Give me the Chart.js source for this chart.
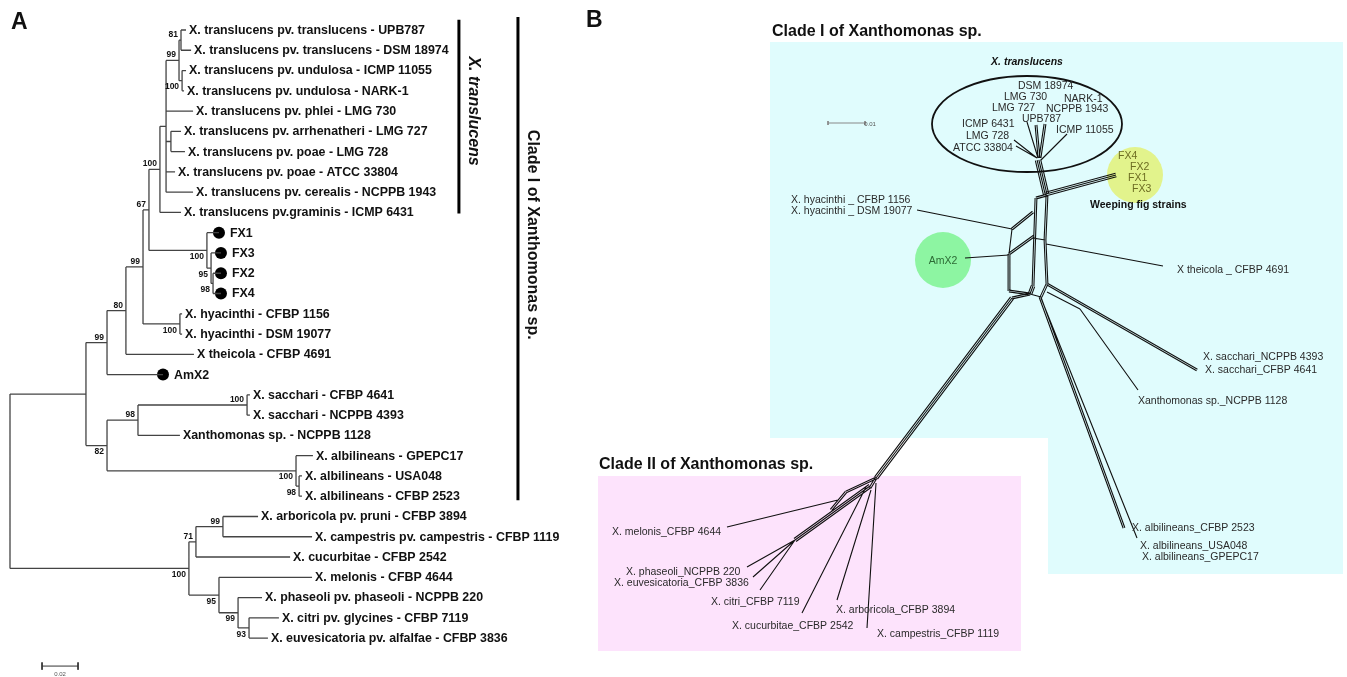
<!DOCTYPE html>
<html>
<head>
<meta charset="utf-8">
<script src="https://cdn.jsdelivr.net/npm/chart.js@4.4.1/dist/chart.umd.min.js"></script>
<style>
html,body{margin:0;padding:0;background:#fff;}
#wrap{position:relative;width:1347px;height:677px;}
</style>
</head>
<body>
<div id="wrap"><canvas id="fig" width="1347" height="677"></canvas></div>
<script>
// ---- Panel A : tree tips, top to bottom ----
const tipNames = [
  'X. translucens pv. translucens - UPB787',
  'X. translucens pv. translucens - DSM 18974',
  'X. translucens pv. undulosa - ICMP 11055',
  'X. translucens pv. undulosa - NARK-1',
  'X. translucens pv. phlei - LMG 730',
  'X. translucens pv. arrhenatheri - LMG 727',
  'X. translucens pv. poae - LMG 728',
  'X. translucens pv. poae - ATCC 33804',
  'X. translucens pv. cerealis - NCPPB 1943',
  'X. translucens pv.graminis - ICMP 6431',
  'FX1', 'FX3', 'FX2', 'FX4',
  'X. hyacinthi - CFBP 1156',
  'X. hyacinthi - DSM 19077',
  'X theicola - CFBP 4691',
  'AmX2',
  'X. sacchari - CFBP 4641',
  'X. sacchari - NCPPB 4393',
  'Xanthomonas sp. - NCPPB 1128',
  'X. albilineans - GPEPC17',
  'X. albilineans - USA048',
  'X. albilineans - CFBP 2523',
  'X. arboricola pv. pruni - CFBP 3894',
  'X. campestris pv. campestris - CFBP 1119',
  'X. cucurbitae - CFBP 2542',
  'X. melonis - CFBP 4644',
  'X. phaseoli pv. phaseoli - NCPPB 220',
  'X. citri pv. glycines - CFBP 7119',
  'X. euvesicatoria pv. alfalfae - CFBP 3836'
];
// distance from root (substitutions/site)
const tipDist = [0.0978, 0.1006, 0.0978, 0.0967, 0.1017, 0.0950, 0.0972, 0.0917, 0.1017, 0.0950,
  0.1161, 0.1172, 0.1172, 0.1172, 0.0956, 0.0956, 0.1022, 0.0850,
  0.1333, 0.1333, 0.0944, 0.1683, 0.1622, 0.1622,
  0.1378, 0.1678, 0.1556, 0.1678, 0.1400, 0.1494, 0.1433];
const dottedTips = [10, 11, 12, 13, 17];

// internal nodes
const nodeNames = ['n81', 'nUnd', 'n99a', 'nArr', 'n100a', 'n100b', 'nFXc', 'nFXb', 'nFXa', 'n67', 'nHya', 'n99b', 'n80', 'n99c',
  'nSac', 'n98', 'nAlbB', 'nAlbA', 'n82', 'n86', 'n99e', 'n71', 'n93', 'n99d', 'n95', 'n100c', 'root'];
const nodeDist = [0.0950, 0.0956, 0.0939, 0.0894, 0.0867, 0.0833, 0.1128, 0.1117, 0.1094, 0.0772, 0.0944, 0.0739, 0.0644, 0.0539,
  0.1317, 0.0711, 0.1606, 0.1589, 0.0539, 0.0422, 0.1183, 0.1033, 0.1328, 0.1267, 0.1161, 0.0994, 0];
const nodeKids = [[0, 1], [2, 3], ['n81', 'nUnd'], [5, 6], ['n99a', 4, 'nArr', 7, 8], ['n100a', 9], [12, 13], [11, 'nFXc'], [10, 'nFXb'],
  ['n100b', 'nFXa'], [14, 15], ['n67', 'nHya'], ['n99b', 16], ['n80', 17], [18, 19], ['nSac', 20], [22, 23], [21, 'nAlbB'],
  ['n98', 'nAlbA'], ['n99c', 'n82'], [24, 25], ['n99e', 26], [29, 30], [28, 'n93'], [27, 'n99d'], ['n71', 'n95'], ['n86', 'n100c']];
const nodeSupport = ['81', '100', '99', '', '', '100', '98', '95', '100', '67', '100', '99', '80', '99',
  '100', '98', '98', '100', '82', '', '99', '71', '93', '99', '95', '100', ''];

// ---- Panel B : split network (layout coordinates) ----
// [x1, y1, x2, y2, parallel splits]
const netEdges = [
  [1037, 158, 1014, 140, 1], [1037, 158, 1016, 146, 1], [1038, 158, 1027, 122, 1],
  [1039, 158, 1036, 125, 2], [1040, 158, 1045, 124, 2], [1041, 160, 1067, 134, 1],
  [1038, 160, 1046, 194, 4],
  [1046, 194, 1116, 175, 3],
  [1036, 198, 1047, 195, 2], [1036, 198, 1033, 286, 2], [1047, 195, 1045, 240, 2], [1045, 240, 1047, 284, 2],
  [1033, 238, 1045, 240, 1],
  [1046, 244, 1163, 266, 1],
  [1033, 212, 1012, 229, 2], [1012, 229, 1009, 254, 1], [1034, 236, 1009, 254, 2], [1009, 254, 1009, 291, 2],
  [1009, 291, 1030, 294, 2], [1012, 229, 917, 210, 1], [1009, 255, 965, 258, 1],
  [1033, 286, 1030, 294, 3], [1047, 284, 1041, 297, 2], [1030, 294, 1041, 297, 1],
  [1012, 298, 876, 478, 3], [1030, 294, 1012, 298, 2],
  [1040, 297, 1124, 528, 2], [1041, 298, 1137, 538, 1],
  [1047, 284, 1197, 370, 2],
  [1047, 292, 1080, 309, 1], [1080, 309, 1138, 390, 1],
  [876, 478, 870, 488, 2], [876, 478, 846, 492, 2], [846, 492, 831, 510, 2], [838, 500, 727, 527, 1],
  [870, 486, 795, 540, 3], [795, 540, 747, 567, 1], [795, 540, 753, 577, 1], [795, 540, 760, 590, 1],
  [866, 487, 802, 613, 1], [871, 490, 837, 600, 1], [876, 483, 867, 628, 1]
];
const netLabels = [
  ['X. hyacinthi _ CFBP 1156', 791, 200], ['X. hyacinthi _ DSM 19077', 791, 211],
  ['X theicola _ CFBP 4691', 1177, 270],
  ['X. sacchari_NCPPB 4393', 1203, 357], ['X. sacchari_CFBP 4641', 1205, 370],
  ['Xanthomonas sp._NCPPB 1128', 1138, 401],
  ['X. albilineans_CFBP 2523', 1132, 528], ['X. albilineans_USA048', 1140, 546], ['X. albilineans_GPEPC17', 1142, 557],
  ['X. melonis_CFBP 4644', 612, 532], ['X. phaseoli_NCPPB 220', 626, 572], ['X. euvesicatoria_CFBP 3836', 614, 583],
  ['X. citri_CFBP 7119', 711, 602], ['X. cucurbitae_CFBP 2542', 732, 626], ['X. arboricola_CFBP 3894', 836, 610],
  ['X. campestris_CFBP 1119', 877, 634],
  ['DSM 18974', 1018, 86], ['LMG 730', 1004, 97], ['NARK-1', 1064, 99], ['LMG 727', 992, 108], ['NCPPB 1943', 1046, 109],
  ['UPB787', 1022, 119], ['ICMP 6431', 962, 124], ['ICMP 11055', 1056, 130], ['LMG 728', 966, 136], ['ATCC 33804', 953, 148]
];
const fxLabels = [['FX4', 1118, 156], ['FX2', 1130, 167], ['FX1', 1128, 178], ['FX3', 1132, 189]];

// layout
const W = 1347, H = 677;
const treeScale = { pxPerUnit: 1800, rootPx: 10, rowPx: 20.27, firstRowPx: 30 };
const groupBars = [
  { label: 'X. translucens', x: 0.2494, from: -0.5, to: 9.05, textY: 4.0, italic: true },
  { label: 'Clade I of Xanthomonas sp.', x: 0.2822, from: -0.64, to: 23.2, textY: 10.1, italic: false }
];
const FONT = '"Liberation Sans", Arial, Helvetica, sans-serif';
const strandGap = 1.8;

// node positions
const nodePos = {};
function place(name) {
  if (nodePos[name]) return nodePos[name];
  const i = nodeNames.indexOf(name);
  const ys = nodeKids[i].map(k => typeof k === 'number' ? k : place(k).y);
  nodePos[name] = { x: nodeDist[i], y: (Math.min(...ys) + Math.max(...ys)) / 2, ys };
  return nodePos[name];
}
const nodeParent = {};
nodeKids.forEach((kids, i) => kids.forEach((k, j) => { if (typeof k === 'string') nodeParent[k] = { first: j === 0 }; }));

const treePts = [];
nodeNames.forEach((n, i) => {
  const p = place(n);
  treePts.push({ x: p.x, y: Math.min(...p.ys) }, { x: p.x, y: Math.max(...p.ys) }, { x: null, y: null });
  nodeKids[i].forEach(k => {
    const c = typeof k === 'number' ? { x: tipDist[k], y: k } : place(k);
    treePts.push({ x: p.x, y: c.y }, { x: c.x, y: c.y }, { x: null, y: null });
  });
});

const barPts = [];
groupBars.forEach(b => barPts.push({ x: b.x, y: b.from }, { x: b.x, y: b.to }, { x: null, y: null }));

const netPts = [];
netEdges.forEach(e => {
  const [x1, y1, x2, y2, k] = e;
  const len = Math.hypot(x2 - x1, y2 - y1);
  const nx = -(y2 - y1) / len, ny = (x2 - x1) / len;
  for (let i = 0; i < k; i++) {
    const o = (i - (k - 1) / 2) * strandGap;
    netPts.push({ x: x1 + nx * o, y: y1 + ny * o }, { x: x2 + nx * o, y: y2 + ny * o }, { x: null, y: null });
  }
});

const scaleA = [{ x: 0.0178, y: 31.38 }, { x: 0.0378, y: 31.38 }, { x: null, y: null },
  { x: 0.0178, y: 31.2 }, { x: 0.0178, y: 31.56 }, { x: null, y: null }, { x: 0.0378, y: 31.2 }, { x: 0.0378, y: 31.56 }];
const scaleB = [{ x: 828, y: 123 }, { x: 865, y: 123 }, { x: null, y: null },
  { x: 828, y: 121 }, { x: 828, y: 125 }, { x: null, y: null }, { x: 865, y: 121 }, { x: 865, y: 125 }];

const figPlugin = {
  id: 'figText',
  beforeDraw(chart) {
    const c = chart.ctx;
    c.save(); c.fillStyle = '#fff'; c.fillRect(0, 0, chart.width, chart.height); c.restore();
  },
  beforeDatasetsDraw(chart) {
    const c = chart.ctx, X = v => chart.scales.xB.getPixelForValue(v), Y = v => chart.scales.yB.getPixelForValue(v);
    c.save();
    c.fillStyle = '#e0fcfd';
    c.beginPath();
    c.moveTo(X(770), Y(42)); c.lineTo(X(1343), Y(42)); c.lineTo(X(1343), Y(574)); c.lineTo(X(1048), Y(574));
    c.lineTo(X(1048), Y(438)); c.lineTo(X(770), Y(438)); c.closePath(); c.fill();
    c.fillStyle = '#fde3fc';
    c.fillRect(X(598), Y(476), X(1021) - X(598), Y(651) - Y(476));
    c.fillStyle = '#e2f38c';
    c.beginPath(); c.arc(X(1135), Y(175), 28, 0, Math.PI * 2); c.fill();
    c.fillStyle = '#8df5a2';
    c.beginPath(); c.arc(X(943), Y(260), 28, 0, Math.PI * 2); c.fill();
    c.strokeStyle = '#111'; c.lineWidth = 1.8;
    c.beginPath(); c.ellipse(X(1027), Y(124), 95, 48, 0, 0, Math.PI * 2); c.stroke();
    c.restore();
  },
  afterDatasetsDraw(chart) {
    const c = chart.ctx;
    const xa = chart.scales.xA, ya = chart.scales.yA, xb = chart.scales.xB, yb = chart.scales.yB;
    c.save();
    c.fillStyle = '#111';
    c.textBaseline = 'middle';
    // tip labels
    c.font = 'bold 12.4px ' + FONT;
    tipNames.forEach((t, i) => {
      const gap = dottedTips.includes(i) ? 11 : 3;
      c.fillText(t, xa.getPixelForValue(tipDist[i]) + gap, ya.getPixelForValue(i) + 0.5);
    });
    // bootstrap values
    c.font = 'bold 8.5px ' + FONT;
    c.textAlign = 'right';
    nodeNames.forEach((n, i) => {
      if (!nodeSupport[i]) return;
      const p = place(n), px = xa.getPixelForValue(p.x) - 3, py = ya.getPixelForValue(p.y);
      const above = nodeParent[n] ? nodeParent[n].first : false;
      c.textBaseline = above ? 'bottom' : 'top';
      c.fillText(nodeSupport[i], px, above ? py - 1 : py + 2);
    });
    // group bars text
    c.textAlign = 'center'; c.textBaseline = 'middle';
    groupBars.forEach(b => {
      c.save();
      c.translate(xa.getPixelForValue(b.x) + 14, ya.getPixelForValue(b.textY));
      c.rotate(Math.PI / 2);
      c.font = (b.italic ? 'italic ' : '') + 'bold 16px ' + FONT;
      c.fillText(b.label, 0, 0);
      c.restore();
    });
    c.font = '6px ' + FONT; c.fillStyle = '#555';
    c.fillText('0.02', xa.getPixelForValue(0.0278), ya.getPixelForValue(31.38) + 8);
    c.fillText('0.01', xb.getPixelForValue(870), yb.getPixelForValue(124));
    // panel letters and titles
    c.fillStyle = '#111'; c.textAlign = 'left';
    c.font = 'bold 23px ' + FONT;
    c.fillText('A', 11, 23);
    c.fillText('B', 586, 21);
    c.font = 'bold 16px ' + FONT;
    c.fillText('Clade I of Xanthomonas sp.', xb.getPixelForValue(772), yb.getPixelForValue(32));
    c.fillText('Clade II of Xanthomonas sp.', xb.getPixelForValue(599), yb.getPixelForValue(465));
    // network labels
    c.font = '10.5px ' + FONT; c.fillStyle = '#2a2a2a';
    netLabels.forEach(l => c.fillText(l[0], xb.getPixelForValue(l[1]), yb.getPixelForValue(l[2])));
    c.fillStyle = '#6d6d22';
    fxLabels.forEach(l => c.fillText(l[0], xb.getPixelForValue(l[1]), yb.getPixelForValue(l[2])));
    c.fillStyle = '#2c6b35'; c.textAlign = 'center';
    c.fillText('AmX2', xb.getPixelForValue(943), yb.getPixelForValue(261));
    c.fillStyle = '#111';
    c.font = 'italic bold 10.5px ' + FONT;
    c.fillText('X. translucens', xb.getPixelForValue(1027), yb.getPixelForValue(62));
    c.font = 'bold 10.5px ' + FONT; c.textAlign = 'left';
    c.fillText('Weeping fig strains', xb.getPixelForValue(1090), yb.getPixelForValue(205));
    c.restore();
  }
};

const lineSet = (data, xID, yID, color, width) => ({
  data, xAxisID: xID, yAxisID: yID, showLine: true, spanGaps: false,
  borderColor: color, borderWidth: width, pointRadius: 0, fill: false
});

new Chart(document.getElementById('fig'), {
  type: 'scatter',
  data: {
    datasets: [
      lineSet(treePts, 'xA', 'yA', '#444', 1.3),
      lineSet(barPts, 'xA', 'yA', '#000', 3),
      lineSet(scaleA, 'xA', 'yA', '#333', 1),
      lineSet(netPts, 'xB', 'yB', '#111', 1.1),
      lineSet(scaleB, 'xB', 'yB', '#888', 1),
      {
        data: dottedTips.map(i => ({ x: tipDist[i], y: i })), xAxisID: 'xA', yAxisID: 'yA',
        showLine: false, pointRadius: 6, pointBackgroundColor: '#000', pointBorderWidth: 0
      }
    ]
  },
  options: {
    responsive: false,
    animation: false,
    events: [],
    layout: { padding: 0, autoPadding: false },
    plugins: { legend: { display: false }, tooltip: { enabled: false } },
    scales: {
      xA: { type: 'linear', display: false, min: -treeScale.rootPx / treeScale.pxPerUnit, max: (W - treeScale.rootPx) / treeScale.pxPerUnit },
      yA: { type: 'linear', display: false, reverse: true, min: -treeScale.firstRowPx / treeScale.rowPx, max: (H - treeScale.firstRowPx) / treeScale.rowPx },
      xB: { type: 'linear', display: false, min: 0, max: W },
      yB: { type: 'linear', display: false, reverse: true, min: 0, max: H }
    }
  },
  plugins: [figPlugin]
});
</script>
</body>
</html>
